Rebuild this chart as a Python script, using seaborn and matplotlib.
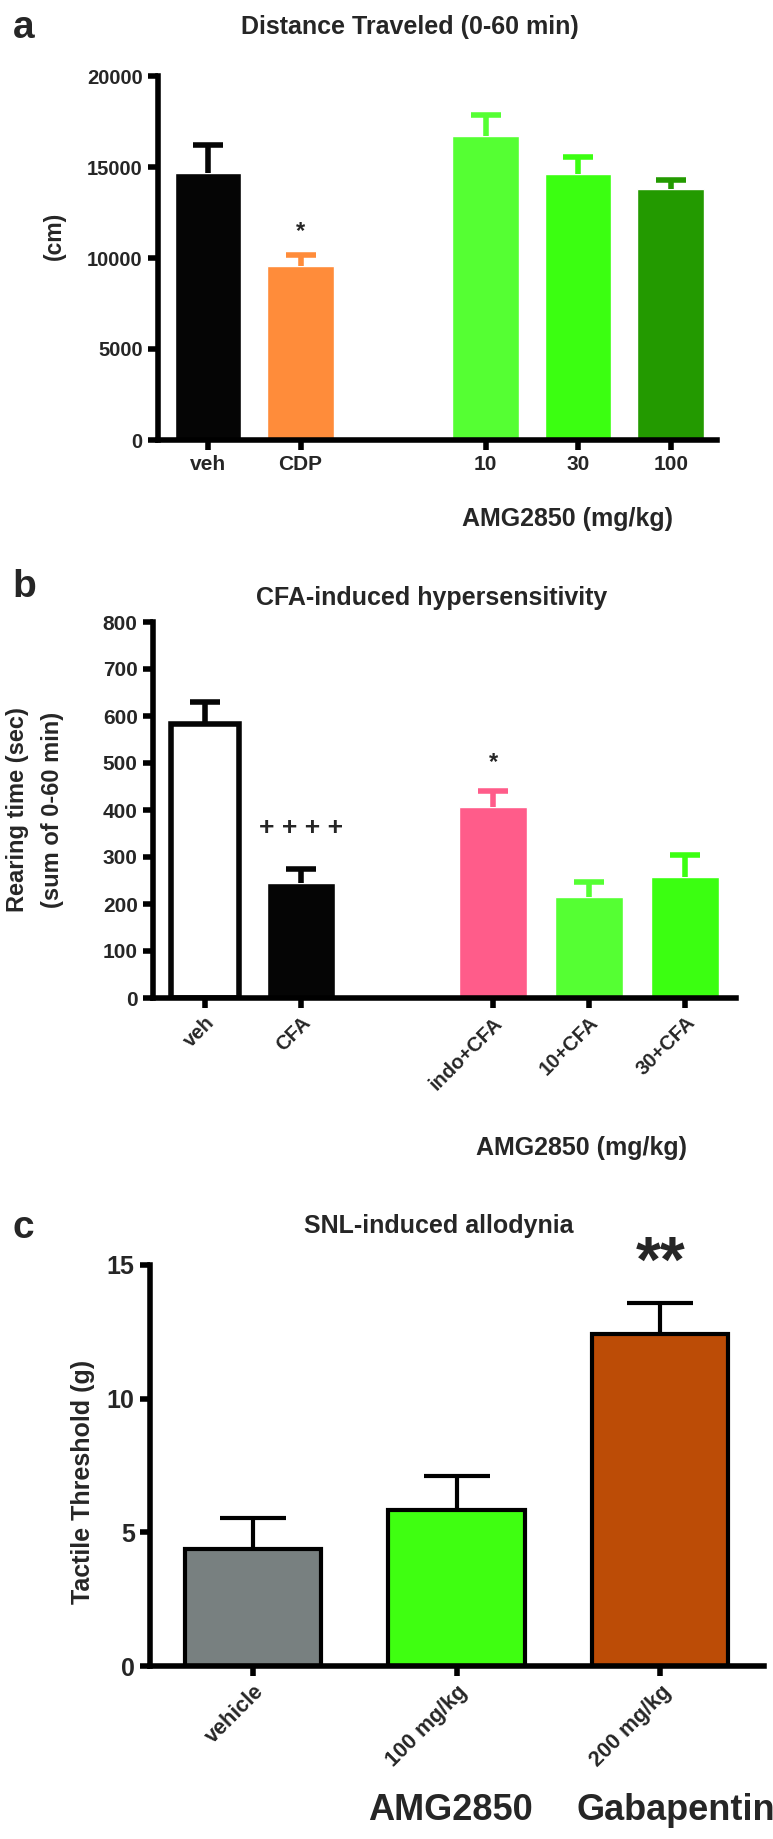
import numpy as np
import pandas as pd
import matplotlib
matplotlib.use("Agg")
import matplotlib.pyplot as plt
import seaborn as sns

sns.set_theme(style="white")
plt.rcParams['font.family'] = ['Liberation Sans', 'DejaVu Sans']
plt.rcParams['font.weight'] = 'bold'

# panel a: distance traveled
a_groups = ["veh", "CDP", "10", "30", "100"]
a_order = ["veh", "CDP", "", "10", "30", "100"]
a_mean = [14650, 9550, 16700, 14630, 13790]
a_sem = [1550, 600, 1140, 900, 510]
a_colors = ["#050505", "#FF8C3A", "#55FF33", "#3BFF11", "#239A00"]

# panel b: rearing time
b_groups = ["veh", "CFA", "indo+CFA", "10+CFA", "30+CFA"]
b_order = ["veh", "CFA", "", "indo+CFA", "10+CFA", "30+CFA"]
b_mean = [582, 245, 407, 214, 258]
b_sem = [48, 29, 34, 33, 46]
b_colors = ["#FFFFFF", "#050505", "#FF5C8A", "#55FF33", "#3BFF11"]
b_err_colors = ["#050505", "#050505", "#FF5C8A", "#55FF33", "#3BFF11"]

# panel c: tactile threshold
c_groups = ["vehicle", "100 mg/kg", "200 mg/kg"]
c_mean = [4.36, 5.83, 12.42]
c_sem = [1.17, 1.27, 1.15]
c_colors = ["#788080", "#3FFF11", "#BC4C06"]

W, H = 773, 1839
fig = plt.figure(figsize=(W / 100, H / 100), dpi=100)


def box(left, right, top, bottom):
    # pixel box -> figure fraction rect
    return [left / W, 1 - bottom / H, (right - left) / W, (bottom - top) / H]


def style_axis(ax, lw=4):
    sns.despine(ax=ax)
    for s in ["left", "bottom"]:
        ax.spines[s].set_linewidth(lw)
        ax.spines[s].set_color("black")
    ax.tick_params(axis="both", length=7, width=lw, color="black",
                   direction="out", bottom=True, left=True, pad=4)


def bars(ax, groups, order, mean, colors, width):
    df = pd.DataFrame({"g": groups, "v": mean})
    sns.barplot(data=df, x="g", y="v", hue="g", order=order, hue_order=groups,
                palette=dict(zip(groups, colors)), width=width, dodge=False,
                saturation=1, legend=False, ax=ax)
    return [order.index(g) for g in groups]


def upper_err(ax, x, y, e, color, lw, cap):
    # one-sided (upper) error bar, lower cap hidden
    _, caps, _ = ax.errorbar(x, y, yerr=[[0] * np.size(e), np.atleast_1d(e)],
                             fmt="none", ecolor=color, elinewidth=lw,
                             capsize=cap, capthick=lw, zorder=1)
    caps[0].set_visible(False)


# ---- a ----
ax1 = fig.add_axes(box(158, 717, 76, 440))
pos = bars(ax1, a_groups, a_order, a_mean, a_colors, 0.72)
for p, m, e, c in zip(pos, a_mean, a_sem, a_colors):
    upper_err(ax1, p, m, e, c, 4, 11)
ax1.set_ylim(0, 20000)
ax1.set_yticks([0, 5000, 10000, 15000, 20000])
ax1.set_xlim(-0.54, 5.5)
ax1.set_xticks(pos)
ax1.set_xticklabels(a_groups, fontsize=15, fontweight="bold")
ax1.set_xlabel("")
ax1.set_ylabel("(cm)", fontsize=16.5, fontweight="bold")
ax1.yaxis.set_label_coords(-0.165, 0.56)
ax1.tick_params(axis="y", labelsize=14.5)
ax1.tick_params(axis="x", pad=10)
style_axis(ax1)
ax1.text(a_order.index("CDP"), a_mean[1] + a_sem[1] + 1280, "*", ha="center",
         va="center", fontsize=17, fontweight="bold")
fig.text(13 / W, 1 - 28 / H, "a", fontsize=28, fontweight="bold", va="center")
fig.text(410 / W, 1 - 27 / H, "Distance Traveled (0-60 min)", fontsize=18,
         fontweight="bold", ha="center", va="center")
fig.text(567 / W, 1 - 519 / H, "AMG2850 (mg/kg)", fontsize=18,
         fontweight="bold", ha="center", va="center")

# ---- b ----
ax2 = fig.add_axes(box(153, 736, 622, 998))
pos = bars(ax2, b_groups, b_order, b_mean, b_colors, 0.71)
for patch in ax2.patches:
    if tuple(patch.get_facecolor()[:3]) == (1.0, 1.0, 1.0):
        patch.set_edgecolor("#050505")
        patch.set_linewidth(4)
for p, m, e, c in zip(pos, b_mean, b_sem, b_err_colors):
    upper_err(ax2, p, m, e, c, 4, 11)
ax2.set_ylim(0, 800)
ax2.set_yticks(range(0, 801, 100))
ax2.set_xlim(-0.54, 5.53)
ax2.set_xticks(pos)
ax2.set_xticklabels(b_groups, fontsize=14.5, fontweight="bold", rotation=45,
                    ha="right", rotation_mode="anchor")
ax2.set_xlabel("")
ax2.set_ylabel("Rearing time (sec)\n(sum of 0-60 min)", fontsize=17,
               fontweight="bold", linespacing=1.7)
ax2.yaxis.set_label_coords(-0.152, 0.5)
ax2.tick_params(axis="y", labelsize=15)
ax2.tick_params(axis="x", pad=12)
style_axis(ax2)
ax2.text(b_order.index("CFA"), b_mean[1] + b_sem[1] + 88, "+ + + +", ha="center",
         va="center", fontsize=19, fontweight="bold")
ax2.text(b_order.index("indo+CFA"), b_mean[2] + b_sem[2] + 61, "*", ha="center",
         va="center", fontsize=17, fontweight="bold")
fig.text(12 / W, 1 - 587 / H, "b", fontsize=28, fontweight="bold", va="center")
fig.text(432 / W, 1 - 598 / H, "CFA-induced hypersensitivity", fontsize=18,
         fontweight="bold", ha="center", va="center")
fig.text(582 / W, 1 - 1148 / H, "AMG2850 (mg/kg)", fontsize=18,
         fontweight="bold", ha="center", va="center")

# ---- c ----
ax3 = fig.add_axes(box(150, 764, 1265, 1666))
df_c = pd.DataFrame({"g": c_groups, "v": c_mean})
sns.barplot(data=df_c, x="g", y="v", hue="g", palette=dict(zip(c_groups, c_colors)),
            width=0.67, saturation=1, legend=False, edgecolor="black",
            linewidth=3, ax=ax3)
upper_err(ax3, np.arange(len(c_groups)), c_mean, c_sem, "black", 3, 24)
ax3.set_ylim(0, 15)
ax3.set_yticks([0, 5, 10, 15])
ax3.set_xlim(-0.506, 2.51)
ax3.set_xticks(range(len(c_groups)))
ax3.set_xticklabels(c_groups, fontsize=15.5, fontweight="bold", rotation=45,
                    ha="right", rotation_mode="anchor")
ax3.set_xlabel("")
ax3.set_ylabel("Tactile Threshold (g)", fontsize=18, fontweight="bold")
ax3.yaxis.set_label_coords(-0.09, 0.46)
ax3.tick_params(axis="y", labelsize=18)
ax3.tick_params(axis="x", pad=12)
style_axis(ax3)
ax3.text(2, c_mean[2] + c_sem[2] + 1.45, "**", ha="center", va="center",
         fontsize=46, fontweight="bold")
fig.text(12 / W, 1 - 1228 / H, "c", fontsize=28, fontweight="bold", va="center")
fig.text(439 / W, 1 - 1226 / H, "SNL-induced allodynia", fontsize=18,
         fontweight="bold", ha="center", va="center")
fig.text(450 / W, 1 - 1810 / H, "AMG2850", fontsize=26, fontweight="bold",
         ha="center", va="center")
fig.text(676 / W, 1 - 1810 / H, "Gabapentin", fontsize=26, fontweight="bold",
         ha="center", va="center")

fig.savefig("out.png", dpi=100)
